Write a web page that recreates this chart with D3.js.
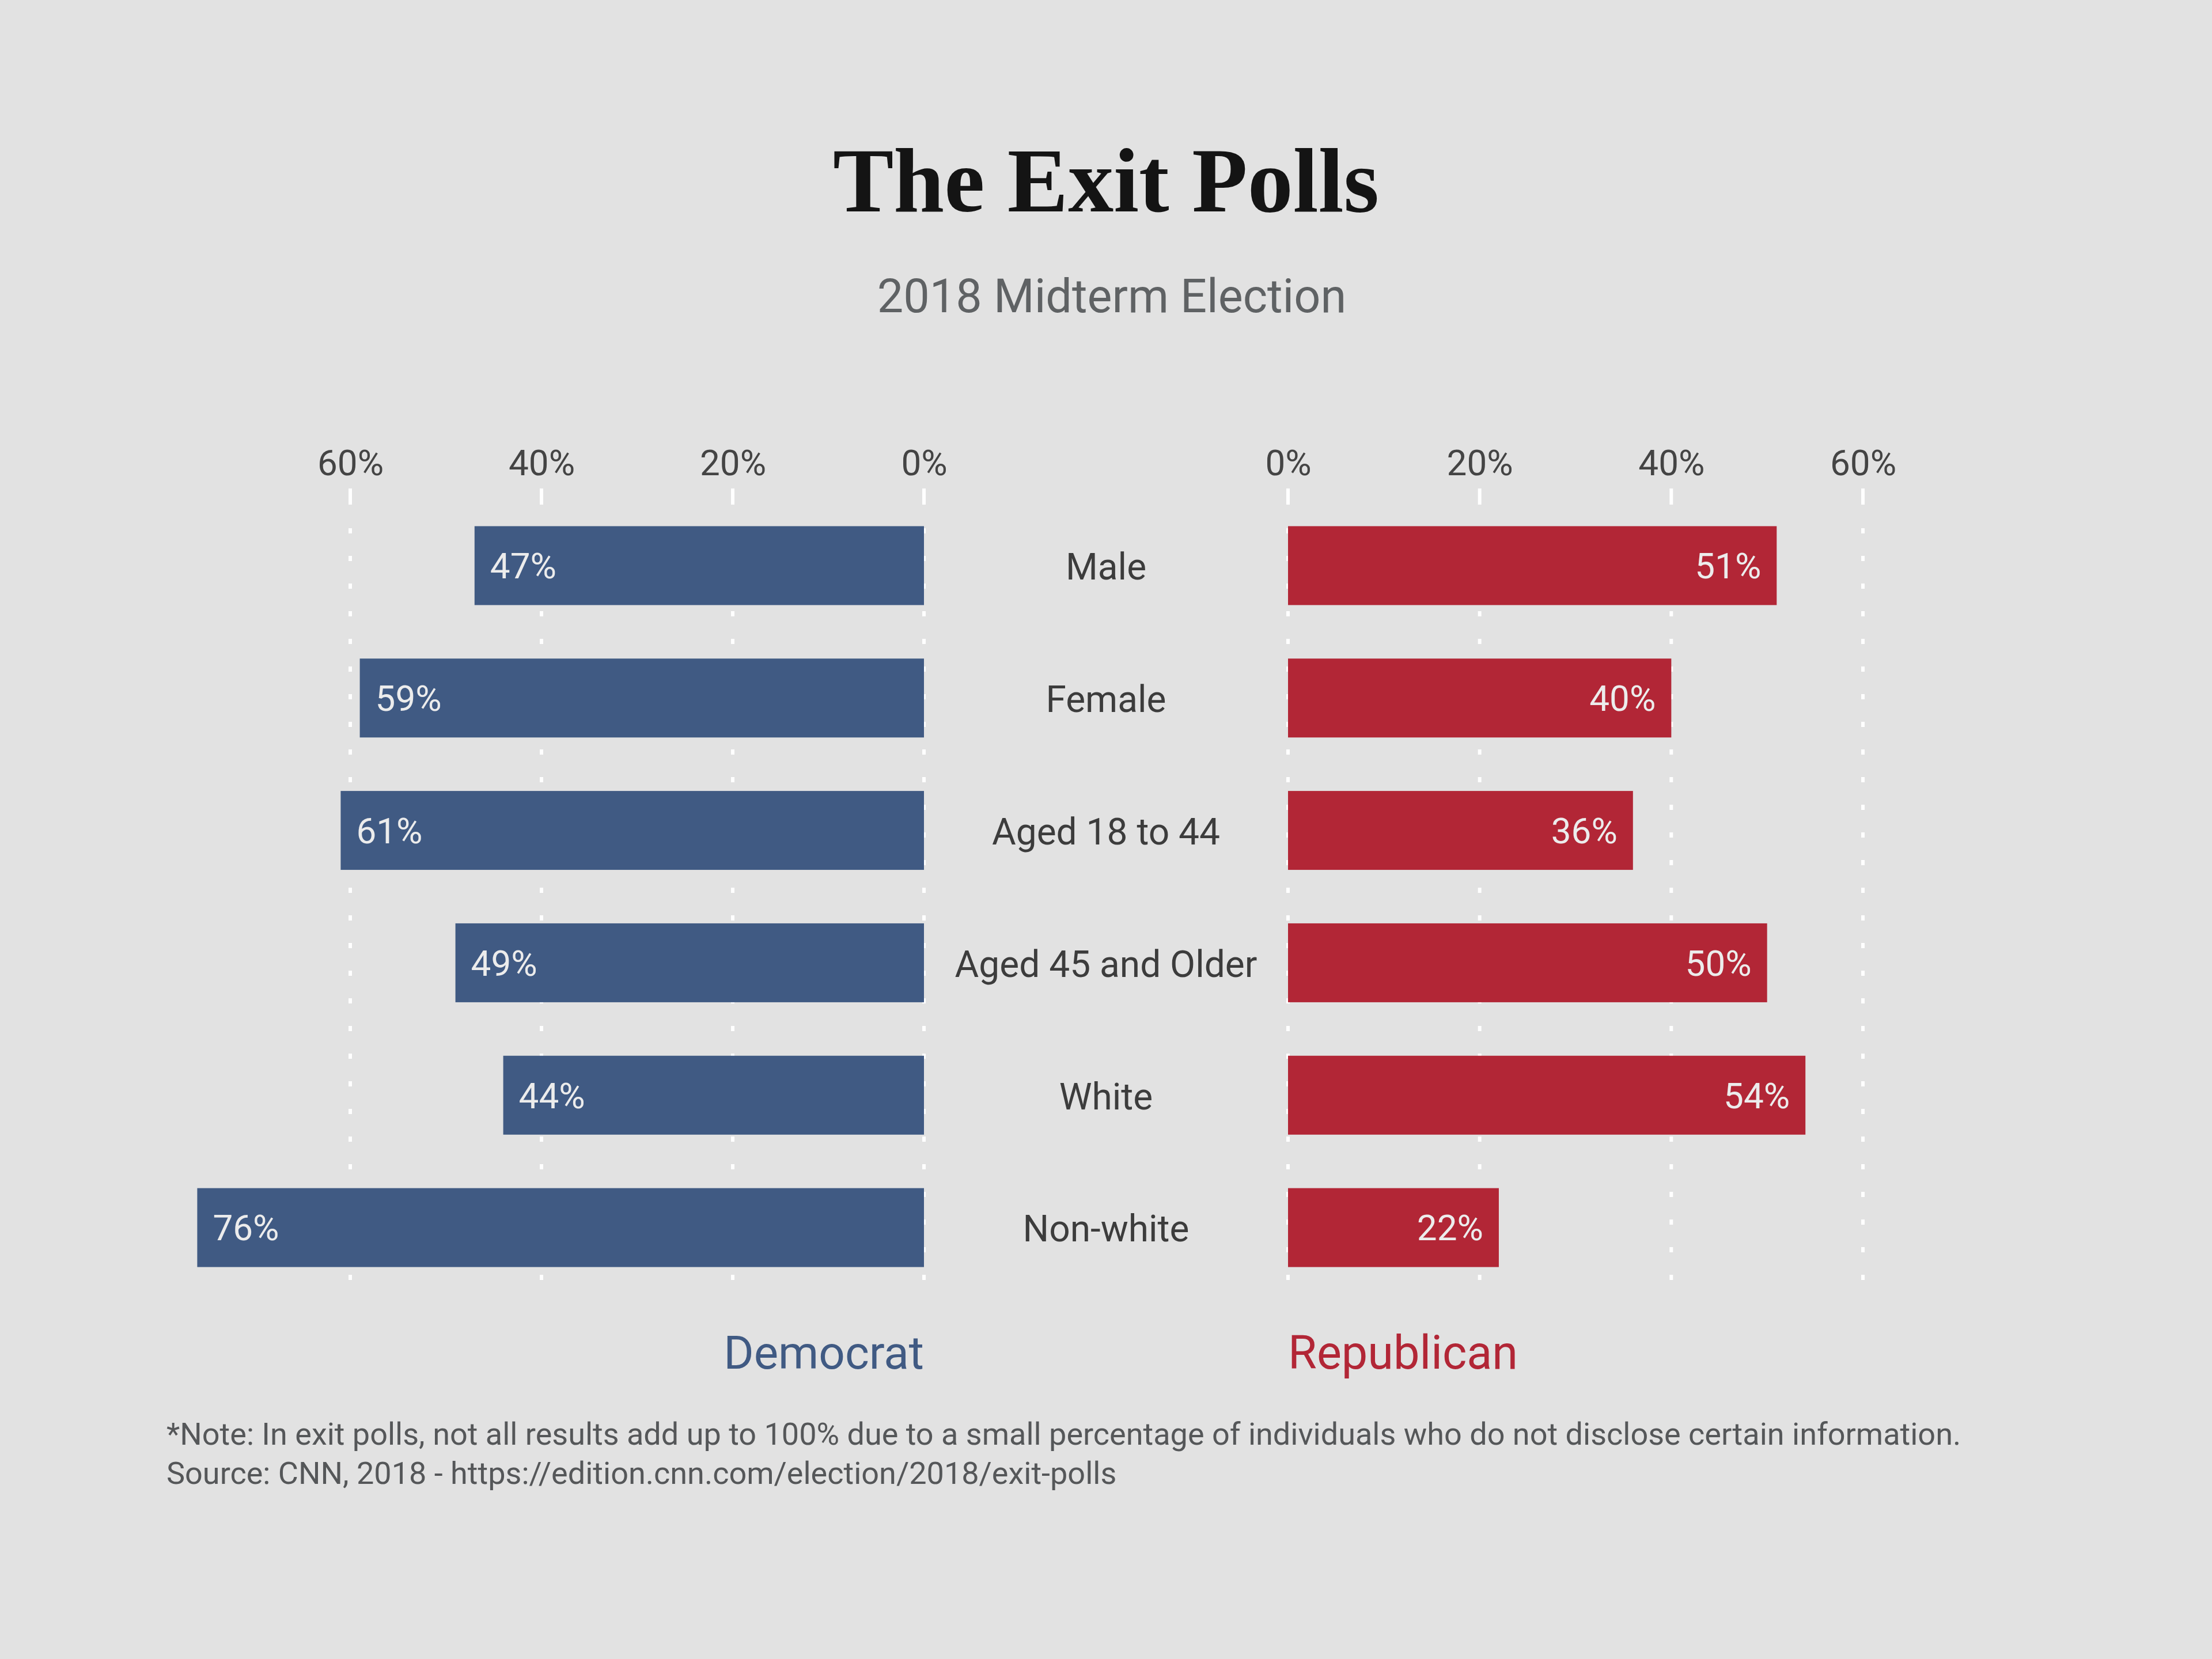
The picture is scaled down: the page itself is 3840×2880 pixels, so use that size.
<!DOCTYPE html>
<html>
<head>
<meta charset="utf-8">
<script src="https://cdn.jsdelivr.net/npm/d3@7"></script>
<style>
  html, body { margin: 0; padding: 0; background: #e2e2e2; }
  svg { display: block; }
</style>
</head>
<body>
<svg id="chart" width="3840" height="2880"></svg>
<script>
// ---- data ----
const categories = ["Male", "Female", "Aged 18 to 44", "Aged 45 and Older", "White", "Non-white"];
const democrat = [47, 59, 61, 49, 44, 76];
const republican = [51, 40, 36, 50, 54, 22];
const tickValues = [0, 20, 40, 60];
const titleText = "The Exit Polls";
const subtitleText = "2018 Midterm Election";
const seriesNames = ["Democrat", "Republican"];
const noteLines = [
  "*Note: In exit polls, not all results add up to 100% due to a small percentage of individuals who do not disclose certain information.",
  "Source: CNN, 2018 - https://edition.cnn.com/election/2018/exit-polls"
];

// ---- layout ----
const W = 3840, H = 2880;
const demColor = "#405a83";
const repColor = "#b22636";
const sans = "Roboto, 'Noto Sans', sans-serif";

const svg = d3.select("#chart");
svg.append("rect").attr("width", W).attr("height", H).attr("fill", "#e2e2e2");

const xL = d3.scaleLinear().domain([0, 60]).range([1604, 608]);
const xR = d3.scaleLinear().domain([0, 60]).range([2236, 3234]);
const y = d3.scaleBand().domain(categories).range([867, 2246]).paddingInner(0.404).paddingOuter(0.202);

// title
svg.append("text").attr("x", 1920).attr("y", 367).attr("text-anchor", "middle")
  .attr("font-family", "'Liberation Serif', 'DejaVu Serif', serif").attr("font-weight", 700)
  .attr("font-size", 158).attr("fill", "#141414").text(titleText);
svg.append("text").attr("x", 1930).attr("y", 542).attr("text-anchor", "middle")
  .attr("font-family", sans).attr("font-size", 81).attr("fill", "#5f6264").text(subtitleText);

function side(x, data, color, isLeft) {
  const g = svg.append("g");
  // axis labels
  const axis = d3.axisTop(x).tickValues(tickValues).tickFormat(d => d + "%").tickSize(0).tickPadding(0);
  const ag = g.append("g").attr("transform", "translate(0,825)").call(axis);
  ag.select(".domain").remove();
  ag.selectAll("text").attr("font-family", sans).attr("font-size", 62).attr("fill", "#444")
    .attr("dy", 0);
  // tick marks
  g.selectAll(".tk").data(tickValues).join("line")
    .attr("x1", d => x(d)).attr("x2", d => x(d)).attr("y1", 848).attr("y2", 876)
    .attr("stroke", "#ffffff").attr("stroke-width", 6);
  // dotted gridlines
  g.selectAll(".gl").data(tickValues).join("line")
    .attr("x1", d => x(d)).attr("x2", d => x(d)).attr("y1", 917).attr("y2", 2225)
    .attr("stroke", "#ffffff").attr("stroke-width", 6).attr("stroke-dasharray", "9 39");
  // bars
  g.selectAll(".bar").data(data).join("rect")
    .attr("x", d => isLeft ? x(d) : x(0))
    .attr("width", d => Math.abs(x(d) - x(0)))
    .attr("y", (d, i) => y(categories[i]))
    .attr("height", y.bandwidth())
    .attr("fill", color);
  // value labels
  g.selectAll(".val").data(data).join("text")
    .attr("x", d => isLeft ? x(d) + 27 : x(d) - 27)
    .attr("y", (d, i) => y(categories[i]) + y.bandwidth() / 2)
    .attr("dy", "0.36em")
    .attr("text-anchor", isLeft ? "start" : "end")
    .attr("font-family", sans).attr("font-size", 62).attr("fill", "#ececec")
    .text(d => d + "%");
}
side(xL, democrat, demColor, true);
side(xR, republican, repColor, false);

// category labels
svg.selectAll(".cat").data(categories).join("text")
  .attr("x", 1920).attr("y", d => y(d) + y.bandwidth() / 2).attr("dy", "0.38em")
  .attr("text-anchor", "middle").attr("font-family", sans).attr("font-size", 64)
  .attr("fill", "#3c3c3c").text(d => d);

// series labels
svg.append("text").attr("x", xL(0)).attr("y", 2376).attr("text-anchor", "end")
  .attr("font-family", sans).attr("font-size", 80).attr("fill", demColor).text(seriesNames[0]);
svg.append("text").attr("x", xR(0)).attr("y", 2376).attr("text-anchor", "start")
  .attr("font-family", sans).attr("font-size", 81).attr("fill", repColor).text(seriesNames[1]);

// notes
svg.selectAll(".note").data(noteLines).join("text")
  .attr("x", 289).attr("y", (d, i) => 2508 + i * 68)
  .attr("font-family", sans).attr("font-size", 54).attr("fill", "#555759").text(d => d);
</script>
</body>
</html>
